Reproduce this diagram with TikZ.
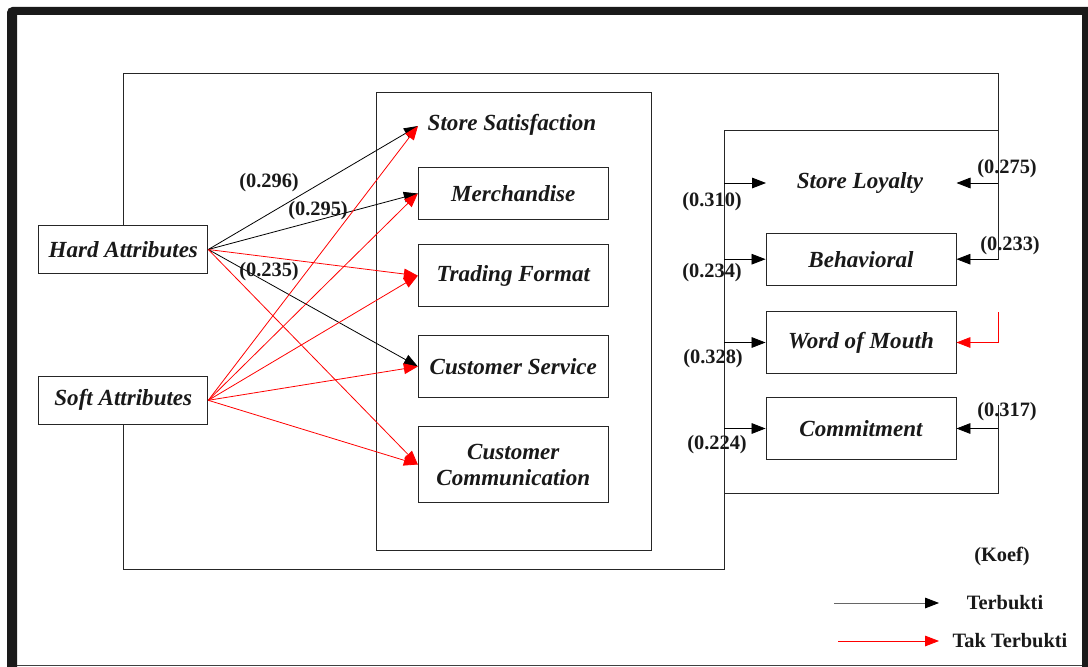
\documentclass[tikz,border=0pt]{standalone}
\usepackage{fontspec}
\setmainfont{Liberation Serif}
\usetikzlibrary{arrows.meta}
\definecolor{framec}{HTML}{1A1A1A}
\tikzset{
  box/.style={draw=black!85, line width=0.7pt, inner sep=0pt, align=center},
  nm/.style={font=\fontsize{17.3}{19.5}\selectfont\bfseries\itshape, text=black!90},
  lbl/.style={font=\fontsize{15.3}{18}\selectfont\bfseries, text=black!90, inner sep=0pt},
  blk/.style={-{Triangle[length=10.5pt,width=8pt]}, line width=0.6pt, draw=black},
  rd/.style={-{Triangle[length=10.5pt,width=8pt]}, line width=0.6pt, draw=red},
  thin/.style={line width=0.7pt, draw=black!85}
}
\begin{document}
\begin{tikzpicture}[x=0.75pt,y=-0.75pt]
\useasboundingbox (0,0) rectangle (1088,667);
% frame
\fill[framec] (7,667) [rounded corners=4pt] -- (7,7) [sharp corners] -- (1088,7) -- (1088,15) -- (17,15) -- (17,667) -- cycle;
\fill[framec] (1082,7) rectangle (1088,667);
\draw[line width=1.2pt, draw=black!75] (17,665.5) -- (1082,665.5);

% boxes
\node[box, nm, minimum width=126.75pt, minimum height=35.6pt] (hard) at (123.3,249.5) {Hard Attributes};
\node[box, nm, minimum width=126.75pt, minimum height=35.5pt] (soft) at (123.3,400.3) {Soft Attributes};

\node[box, minimum width=206.25pt, minimum height=343.1pt] (sat) at (513.5,321.3) {};
\node[nm] (ss) at (512,125) {Store Satisfaction};
\coordinate (ssin) at (418,126);
\node[box, nm, minimum width=142.5pt, minimum height=38.7pt] (merch) at (513.3,193.5) {Merchandise};
\node[box, nm, minimum width=142.5pt, minimum height=46.5pt] (trade) at (513.3,275.7) {Trading Format};
\node[box, nm, minimum width=142.5pt, minimum height=46.2pt] (cserv) at (513.3,366.5) {Customer Service};
\node[box, nm, minimum width=142.5pt, minimum height=56.7pt] (ccomm) at (513.3,464.5) {Customer\\Communication};

% outer frame lines
\coordinate (otl) at (123.3,73);
\coordinate (otr) at (998,73);
\coordinate (obl) at (123.3,569);
\coordinate (obr) at (724,569);
\draw[thin] (hard.north) -- (otl) -- (otr) -- (998,130);
\draw[thin] (soft.south) -- (obl) -- (obr) -- (724,493);

% loyalty box
\coordinate (ltl) at (724,130);
\coordinate (ltr) at (998,130);
\coordinate (lbl) at (724,493);
\coordinate (lbr) at (998,493);
\draw[thin] (ltl) -- (ltr) -- (998,260);
\draw[thin] (998,405) -- (lbr) -- (lbl) -- (ltl);

\node[nm] (sl) at (860,183) {Store Loyalty};
\coordinate (slin) at (766,183);
\coordinate (slout) at (956.5,183);
\node[box, nm, minimum width=142.5pt, minimum height=38.8pt] (beh) at (861,259.2) {Behavioral};
\node[box, nm, minimum width=142.5pt, minimum height=46.2pt] (wom) at (861,342.5) {Word of Mouth};
\node[box, nm, minimum width=142.5pt, minimum height=46.2pt] (com) at (861,428.5) {Commitment};

% left-side arrows into loyalty
\coordinate (a1) at (724,183);
\coordinate (a2) at (724,259.2);
\coordinate (a3) at (724,342.5);
\coordinate (a4) at (724,428.5);
\draw[blk] (a1) -- (slin);
\draw[blk] (a2) -- (beh.west);
\draw[blk] (a3) -- (wom.west);
\draw[blk] (a4) -- (com.west);
% right-side arrows
\coordinate (b1) at (998,183);
\coordinate (b2) at (998,259.2);
\coordinate (b3top) at (998,312);
\coordinate (b3) at (998,342.5);
\coordinate (b4) at (998,428.5);
\draw[blk] (b1) -- (slout);
\draw[blk] (b2) -- (beh.east);
\draw[rd] (b3top) -- (b3) -- (wom.east);
\draw[blk] (b4) -- (com.east);

% attribute arrows
\draw[blk] (hard.east) -- (ssin);
\draw[blk] (hard.east) -- (merch.west);
\draw[rd] (hard.east) -- (trade.west);
\draw[blk] (hard.east) -- (cserv.west);
\draw[rd] (hard.east) -- (ccomm.west);
\draw[rd] (soft.east) -- (ssin);
\draw[rd] (soft.east) -- (merch.west);
\draw[rd] (soft.east) -- (trade.west);
\draw[rd] (soft.east) -- (cserv.west);
\draw[rd] (soft.east) -- (ccomm.west);

% coefficients
\node[lbl] (c1) at (269,183) {(0.296)};
\node[lbl] (c2) at (318,211) {(0.295)};
\node[lbl] (c3) at (269,272) {(0.235)};
\node[lbl] (c4) at (712,202) {(0.310)};
\node[lbl] (c5) at (712,273) {(0.234)};
\node[lbl] (c6) at (713,359) {(0.328)};
\node[lbl] (c7) at (717,445) {(0.224)};
\node[lbl] (c8) at (1007,169) {(0.275)};
\node[lbl] (c9) at (1010,246) {(0.233)};
\node[lbl] (c10) at (1007,412) {(0.317)};

% legend
\node[lbl] (koef) at (1002,556) {(Koef)};
\node[lbl] (t1) at (1005,603) {Terbukti};
\node[lbl] (t2) at (1010,641) {Tak Terbukti};
\coordinate (l1s) at (834,603);
\coordinate (l1e) at (939,603);
\coordinate (l2s) at (838,641);
\coordinate (l2e) at (939,641);
\draw[-{Triangle[length=10.5pt,width=8pt,color=black]}, line width=0.6pt, draw=black!60] (l1s) -- (l1e);
\draw[rd] (l2s) -- (l2e);
\end{tikzpicture}
\end{document}
